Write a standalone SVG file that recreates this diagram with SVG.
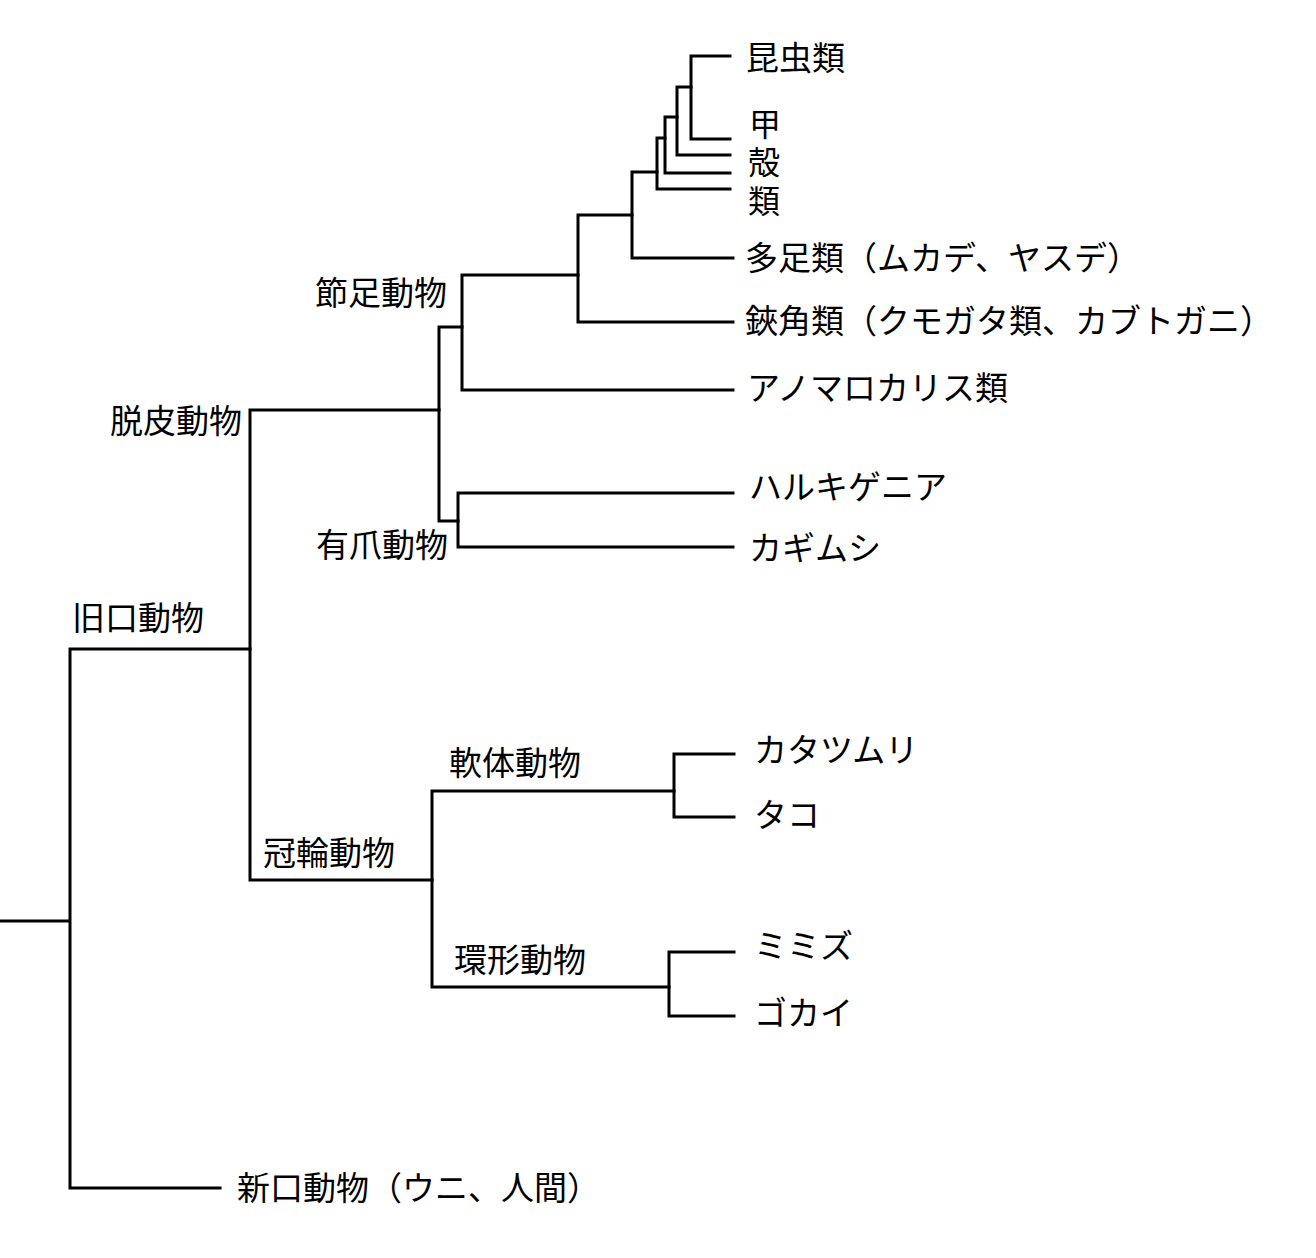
<svg xmlns="http://www.w3.org/2000/svg" width="1316" height="1258" viewBox="0 0 1316 1258">
<style>
.l{fill:none;stroke:#000;stroke-width:3;stroke-linecap:square;stroke-linejoin:miter}
text{font-family:"Noto Sans CJK JP","Noto Sans CJK SC",sans-serif;font-size:33px;fill:#000}
.s{font-size:32px}
</style>
<rect width="1316" height="1258" fill="#fff"/>
<g id="connectors">
<path class="l" d="M0,921 H70 M70,649 V1188 H220 M70,649 H250"/>
<path class="l" d="M250,410 V880 M250,410 H439 M250,880 H432"/>
<path class="l" d="M439,327 V521 M439,327 H462 M439,521 H458"/>
<path class="l" d="M462,275 V390 H733 M462,275 H578"/>
<path class="l" d="M578,215 V322 H733 M578,215 H632"/>
<path class="l" d="M632,172 V258 H733 M632,172 H657"/>
<path class="l" d="M657,138 V189 H730 M657,138 H665"/>
<path class="l" d="M665,117 V173 H730 M665,117 H677"/>
<path class="l" d="M677,87 V155 H730 M677,87 H691"/>
<path class="l" d="M730,56 H691 V139 H730"/>
<path class="l" d="M458,493 V547 H733 M458,493 H733"/>
<path class="l" d="M432,791 V987 M432,791 H674 M432,987 H669"/>
<path class="l" d="M734,754 H674 V817 H734"/>
<path class="l" d="M734,952 H669 V1016 H734"/>
</g>
<g id="n-kyukou"><text x="72" y="630">旧口動物</text></g>
<g id="n-dappi"><text x="110" y="433">脱皮動物</text></g>
<g id="n-setsusoku"><text x="315" y="305">節足動物</text></g>
<g id="n-yuusou"><text x="316" y="557">有爪動物</text></g>
<g id="n-kanrin"><text x="263" y="865">冠輪動物</text></g>
<g id="n-nantai"><text x="449" y="775">軟体動物</text></g>
<g id="n-kankei"><text x="454" y="972">環形動物</text></g>
<g id="n-konchu"><text x="746" y="70">昆虫類</text></g>
<g id="n-kou"><text class="s" x="749" y="136">甲</text></g>
<g id="n-kaku"><text class="s" x="748" y="174">殻</text></g>
<g id="n-rui"><text class="s" x="748" y="213">類</text></g>
<g id="n-tasoku"><text x="745" y="270">多足類（ムカデ、ヤスデ）</text></g>
<g id="n-kyokaku"><text x="745" y="333">鋏角類（クモガタ類、カブトガニ）</text></g>
<g id="n-anomaro"><text x="747" y="400">アノマロカリス類</text></g>
<g id="n-haruki"><text x="749" y="499">ハルキゲニア</text></g>
<g id="n-kagimushi"><text x="749" y="560">カギムシ</text></g>
<g id="n-katatsumuri"><text x="754" y="762">カタツムリ</text></g>
<g id="n-tako"><text x="754" y="827">タコ</text></g>
<g id="n-mimizu"><text x="754" y="958">ミミズ</text></g>
<g id="n-gokai"><text x="754" y="1025">ゴカイ</text></g>
<g id="n-shinkou"><text x="237" y="1200">新口動物（ウニ、人間）</text></g>
</svg>
